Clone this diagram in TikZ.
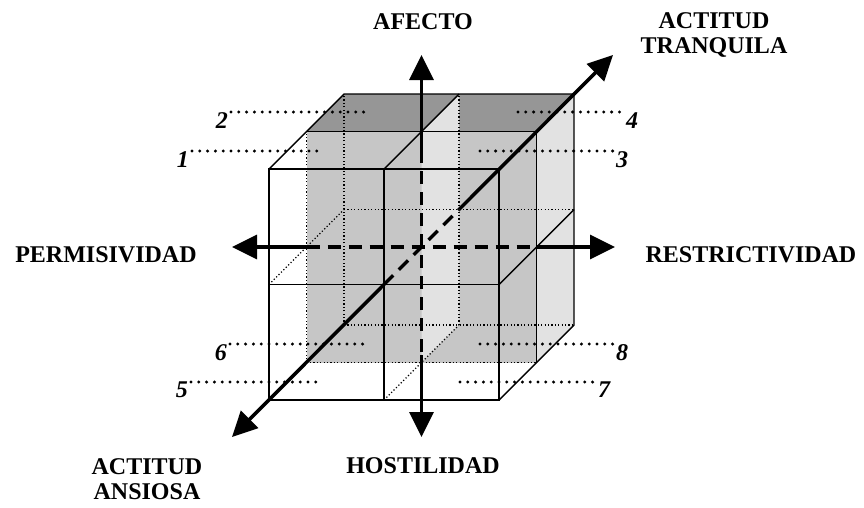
\documentclass[tikz,border=0pt]{standalone}
\usepackage{fontspec}
\setmainfont{Liberation Serif}
\usetikzlibrary{arrows.meta}
\definecolor{shadedark}{RGB}{150,150,150}
\definecolor{shademid}{RGB}{198,198,198}
\definecolor{shadelight}{RGB}{226,226,226}
\begin{document}
\begin{tikzpicture}[x=1pt,y=-1pt,line join=miter]
  \tikzset{
    edge/.style={line width=1.4pt},
    hidden/.style={line width=1.2pt,dash pattern=on 1.2pt off 2.2pt},
    leader/.style={line width=3.3pt,line cap=round,dash pattern=on 0pt off 7.8pt},
    axis/.style={line width=3.5pt},
    axisdash/.style={axis,dash pattern=on 13pt off 8pt},
    tip/.style={-{Triangle[length=25pt,width=24pt]}},
    lab/.style={font=\fontsize{24}{24.5}\selectfont\bfseries,align=center,inner sep=0pt},
    num/.style={font=\fontsize{24}{24}\selectfont\bfseries\itshape,inner sep=0pt},
  }
  \useasboundingbox (0,0) rectangle (864,507);

  % corner points c<i><j><k>: i right, j up, k depth
  \foreach \i in {0,1,2}
    \foreach \j in {0,1,2}
      \foreach \k in {0,1,2}
        \coordinate (c\i\j\k) at ({269+115*\i+37.5*\k},{400-115.5*\j-37.5*\k});

  % ==================== shaded back half ====================
  \fill[shademid] (c001) rectangle (c221);
  \fill[shadedark] (c021) -- (c022) -- (c222) -- (c221) -- cycle;
  \fill[shadelight] (c221) -- (c222) -- (c202) -- (c201) -- cycle;
  \fill[shadelight] (c121) -- (c122) -- (c102) -- (c101) -- cycle;

  % hidden edges
  \draw[hidden] (c001) -- (c021);
  \draw[hidden] (c002) -- (c022);
  \draw[hidden] (c102) -- (c122);
  \draw[hidden] (c002) -- (c202);
  \draw[hidden] (c012) -- (c212);
  \draw[hidden] (c001) -- (c201);
  \draw[hidden] (c010) -- (c012);
  \draw[hidden] (c100) -- (c102);

  % ==================== visible edges ====================
  \draw[edge] (c000) rectangle (c220);
  \draw[edge] (c100) -- (c120);
  \draw[edge] (c010) -- (c210);
  \draw[edge] (c020) -- (c022) -- (c222);
  \draw[edge] (c120) -- (c122);
  \draw[edge] (c220) -- (c222);
  \draw[edge] (c021) -- (c221);
  \draw[edge] (c200) -- (c202) -- (c222);
  \draw[edge] (c201) -- (c221);
  \draw[edge] (c210) -- (c212);

  % ==================== octant numbers ====================
  \node[num,anchor=north east] (n2) at (228,112) {2};
  \node[num,anchor=north east] (n1) at (189,151) {1};
  \node[num,anchor=north east] (n6) at (227,344) {6};
  \node[num,anchor=north east] (n5) at (188,382) {5};
  \node[num,anchor=north west] (n4) at (626,112) {4};
  \node[num,anchor=north west] (n3) at (616,151) {3};
  \node[num,anchor=north west] (n8) at (616,344) {8};
  \node[num,anchor=north west] (n7) at (598,382) {7};

  \coordinate (b2) at (365,112);
  \coordinate (b1) at (323,151);
  \coordinate (b6) at (363,344);
  \coordinate (b5) at (323,382);
  \coordinate (b4) at (518,112);
  \coordinate (b3) at (480,151);
  \coordinate (b8) at (480,344);
  \coordinate (b7) at (460,382);

  \foreach \n in {2,1,6,5}
    \draw[leader,shorten <=3pt] (n\n.north east) -- (b\n);
  \foreach \n in {4,3,8,7}
    \draw[leader] (b\n) -- (n\n.north west);

  % ==================== axes ====================
  \coordinate (Tleft) at (232,247);
  \coordinate (Tright) at (615,247);
  \coordinate (Tup) at (421.5,55);
  \coordinate (Tdown) at (421.5,437);
  \coordinate (Tfront) at (232,437);
  \coordinate (Tback) at (613,55);
  \coordinate (Vhi) at (421.5,150);
  \coordinate (Vlo) at (421.5,355);

  \draw[axis,tip] (c011) -- (Tleft);
  \draw[axisdash] (c011) -- (c211);
  \draw[axis,tip] (c211) -- (Tright);

  \draw[axis,tip] (Vhi) -- (Tup);
  \draw[axisdash] (Vhi) -- (Vlo);
  \draw[axis,tip] (Vlo) -- (Tdown);

  \draw[axis,tip] (c110) -- (Tfront);
  \draw[axisdash] (c110) -- (c112);
  \draw[axis,tip] (c112) -- (Tback);

  % ==================== labels ====================
  \node[lab] (lafecto) at (423,22) {AFECTO};
  \node[lab] (ltranq) at (714,35) {ACTITUD\\TRANQUILA};
  \node[lab] (lperm) at (106,255) {PERMISIVIDAD};
  \node[lab] (lrest) at (751,255) {RESTRICTIVIDAD};
  \node[lab] (lhost) at (423,466) {HOSTILIDAD};
  \node[lab] (lansi) at (147,479) {ACTITUD\\ANSIOSA};
\end{tikzpicture}
\end{document}
